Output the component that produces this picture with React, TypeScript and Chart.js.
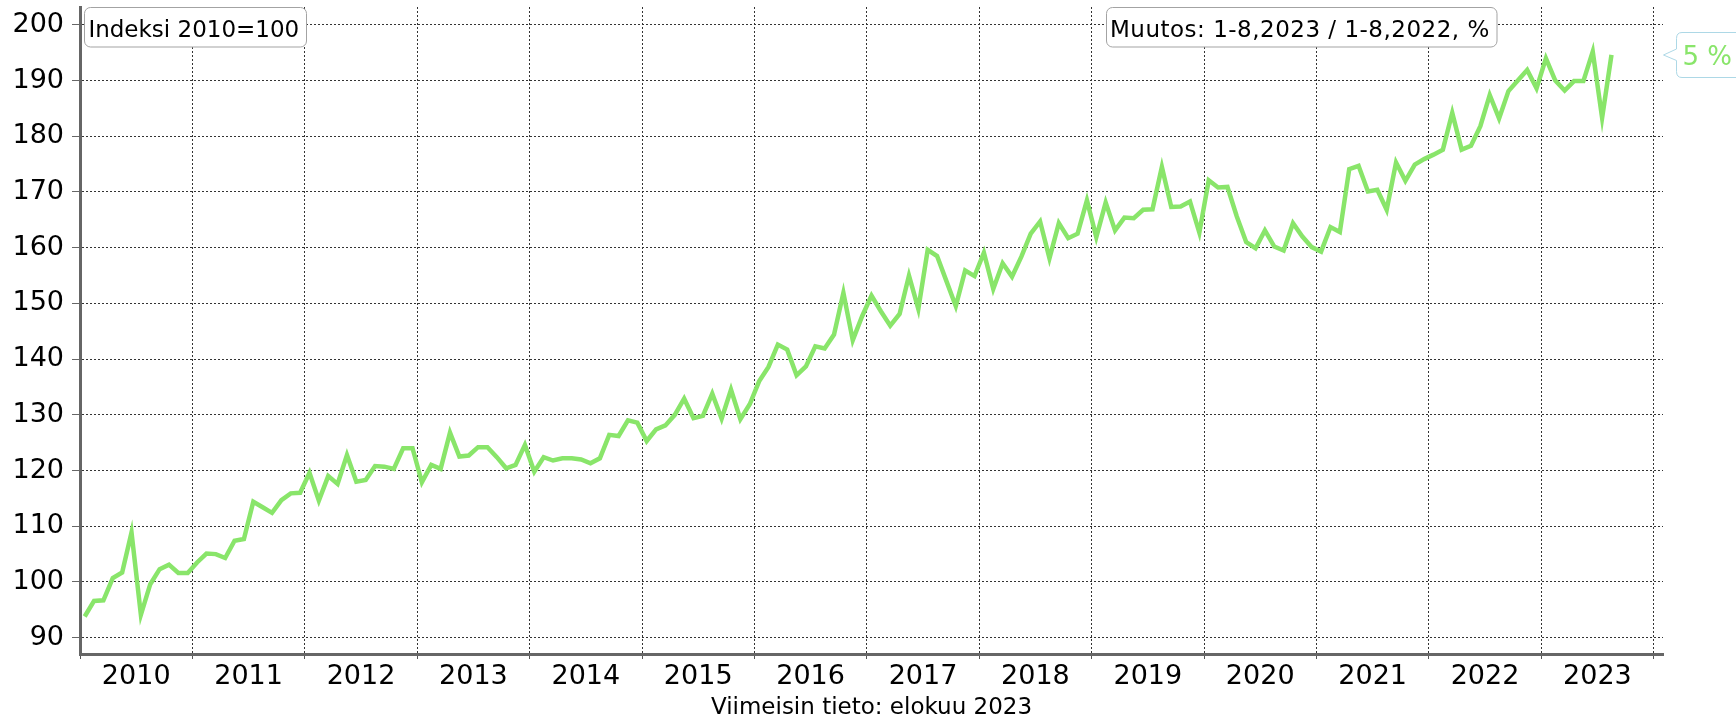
import React, { useEffect, useRef } from 'react';
import { Chart, registerables } from 'chart.js';

Chart.register(...registerables);

// ---- data (monthly index, 2010=100) ----
const years = ['2010', '2011', '2012', '2013', '2014', '2015', '2016', '2017', '2018', '2019', '2020', '2021', '2022', '2023'];
const v2010 = [93.8, 96.6, 96.7, 100.7, 101.7, 108.9, 94.1, 99.6, 102.3, 103.1, 101.6, 101.6];
const v2011 = [103.5, 105.1, 105.0, 104.3, 107.4, 107.7, 114.4, 113.4, 112.4, 114.7, 115.9, 116.0];
const v2012 = [119.6, 114.6, 119.0, 117.6, 122.8, 118.0, 118.3, 120.8, 120.7, 120.3, 124.0, 124.0];
const v2013 = [117.9, 121.0, 120.3, 126.8, 122.5, 122.7, 124.2, 124.2, 122.4, 120.4, 121.0, 124.6];
const v2014 = [119.8, 122.4, 121.8, 122.2, 122.2, 122.0, 121.3, 122.2, 126.4, 126.2, 129.0, 128.6];
const v2015 = [125.3, 127.4, 128.1, 130.0, 132.9, 129.4, 129.8, 133.8, 129.3, 134.5, 129.2, 131.9];
const v2016 = [136.0, 138.6, 142.6, 141.7, 137.1, 138.7, 142.3, 141.9, 144.4, 151.9, 143.4, 147.7];
const v2017 = [151.4, 148.6, 146.0, 148.1, 155.0, 149.0, 159.6, 158.5, 154.0, 149.5, 155.9, 154.9];
const v2018 = [159.1, 152.6, 157.2, 154.8, 158.4, 162.5, 164.7, 158.1, 164.4, 161.7, 162.5, 168.5];
const v2019 = [161.9, 168.1, 163.1, 165.4, 165.3, 166.8, 166.9, 174.5, 167.3, 167.4, 168.3, 162.7];
const v2020 = [172.1, 170.8, 170.9, 165.6, 161.0, 159.9, 163.1, 160.2, 159.5, 164.4, 162.0, 160.1];
const v2021 = [159.3, 163.7, 162.8, 174.1, 174.7, 170.1, 170.4, 166.8, 175.3, 172.0, 174.9, 175.9];
const v2022 = [176.7, 177.6, 184.2, 177.6, 178.3, 181.8, 187.4, 183.2, 188.1, 190.0, 191.9, 188.6];
const v2023 = [194.0, 190.0, 188.2, 189.9, 189.9, 195.2, 183.3, 194.6];

const yTicks = [90, 100, 110, 120, 130, 140, 150, 160, 170, 180, 190, 200];

const indexLabel = 'Indeksi 2010=100';
const changeLabel = 'Muutos: 1-8,2023 / 1-8,2022, %';
const changeValue = '5 %';
const footerLabel = 'Viimeisin tieto: elokuu 2023';

const values = [
  ...v2010, ...v2011, ...v2012, ...v2013, ...v2014, ...v2015, ...v2016,
  ...v2017, ...v2018, ...v2019, ...v2020, ...v2021, ...v2022, ...v2023,
];

const W = 1736;
const H = 720;
const GREEN = '#89E56A';
const FONT = "'DejaVu Sans', Verdana, sans-serif";

export default function App() {
  const ref = useRef<HTMLCanvasElement>(null);

  useEffect(() => {
    if (!ref.current) return;
    Chart.defaults.font.family = FONT;
    const nMonths = years.length * 12;
    const boundaries = years.map((_, k) => 12 * k - 0.5).concat([nMonths - 0.5]);
    const centers = years.map((_, k) => 12 * k + 5.5);
    const xTicks = [...boundaries, ...centers].sort((a, b) => a - b);
    const centerIndex = (v: number) => {
      const k = (v - 5.5) / 12;
      return Math.abs(k - Math.round(k)) < 1e-6 ? Math.round(k) : -1;
    };

    const chart = new Chart(ref.current, {
      type: 'line',
      data: {
        datasets: [
          {
            data: values.map((y, i) => ({ x: i, y })),
            borderColor: GREEN,
            borderWidth: 4.5,
            pointRadius: 0,
            pointHoverRadius: 0,
            tension: 0,
            fill: false,
          },
        ],
      },
      options: {
        animation: false,
        responsive: false,
        maintainAspectRatio: false,
        events: [],
        layout: { padding: { left: 0, right: 73, top: 7, bottom: 0 } },
        plugins: {
          legend: { display: false },
          tooltip: { enabled: false },
          title: { display: false },
        },
        scales: {
          x: {
            type: 'linear',
            min: -0.5,
            max: nMonths + 0.5,
            afterBuildTicks: (s: any) => {
              s.ticks = xTicks.map((value) => ({ value }));
            },
            afterFit: (s: any) => {
              s.height = 66;
              s.paddingLeft = 0;
              s.paddingRight = 0;
            },
            ticks: {
              autoSkip: false,
              maxRotation: 0,
              minRotation: 0,
              padding: 2,
              color: '#000',
              font: { size: 27 },
              callback: (v: any) => {
                const k = centerIndex(Number(v));
                return k >= 0 ? years[k] : '';
              },
            },
            grid: {
              color: (ctx: any) =>
                ctx.tick && centerIndex(ctx.tick.value) >= 0 ? 'rgba(0,0,0,0)' : '#333',
              tickColor: (ctx: any) =>
                ctx.tick && centerIndex(ctx.tick.value) >= 0 ? 'rgba(0,0,0,0)' : '#555',
              lineWidth: 1,
              tickLength: 5,
              tickWidth: 1,
            },
            border: { display: true, color: '#666', width: 3, dash: [2, 2] },
            title: {
              display: true,
              text: footerLabel,
              color: '#000',
              font: { size: 23, lineHeight: 1 },
              padding: { top: 0, bottom: 0 },
            },
          },
          y: {
            min: 87.07,
            max: 203.2,
            afterBuildTicks: (s: any) => {
              s.ticks = yTicks.map((value) => ({ value }));
            },
            afterFit: (s: any) => {
              s.width = 80;
              s.paddingTop = 0;
              s.paddingBottom = 0;
            },
            ticks: {
              padding: 8,
              color: '#000',
              font: { size: 27 },
              callback: (v: any) => String(v),
            },
            grid: {
              color: '#333',
              lineWidth: 1,
              tickLength: 8,
              tickColor: '#666',
              tickWidth: 1,
            },
            border: { display: true, color: '#666', width: 3, dash: [2, 2] },
          },
        },
      },
    });
    return () => chart.destroy();
  }, []);

  return (
    <div
      style={{
        position: 'fixed',
        left: 0,
        top: 0,
        width: W,
        height: H,
        overflow: 'hidden',
        background: '#fff',
      }}
    >
      <canvas ref={ref} width={W} height={H} style={{ position: 'absolute', left: 0, top: 0, width: W, height: H }} />
      <svg
        width={W}
        height={H}
        style={{ position: 'absolute', left: 0, top: 0, pointerEvents: 'none' }}
      >
        <rect x={84.5} y={7.5} width={222} height={39.5} rx={6} ry={6} fill="#fff" stroke="#a3a3a3" strokeWidth={1} />
        <text x={88.4} y={36.7} fontFamily={FONT} fontSize={23} fill="#000">
          {indexLabel}
        </text>
        <rect x={1106.5} y={7.5} width={390.5} height={39.5} rx={6} ry={6} fill="#fff" stroke="#a3a3a3" strokeWidth={1} />
        <text x={1110} y={36.7} fontFamily={FONT} fontSize={23} fill="#000" letterSpacing={0.5}>
          {changeLabel}
        </text>
        <path
          d="M 1760 32.5 H 1682 Q 1676.5 32.5 1676.5 38.5 V 49 L 1663.5 55 L 1676.5 60.5 V 71.5 Q 1676.5 77.5 1682 77.5 H 1760"
          fill="#fff"
          stroke="#add8e6"
          strokeWidth={1}
        />
        <text x={1682.5} y={65} fontFamily={FONT} fontSize={26} fill={GREEN}>
          {changeValue}
        </text>
      </svg>
    </div>
  );
}
